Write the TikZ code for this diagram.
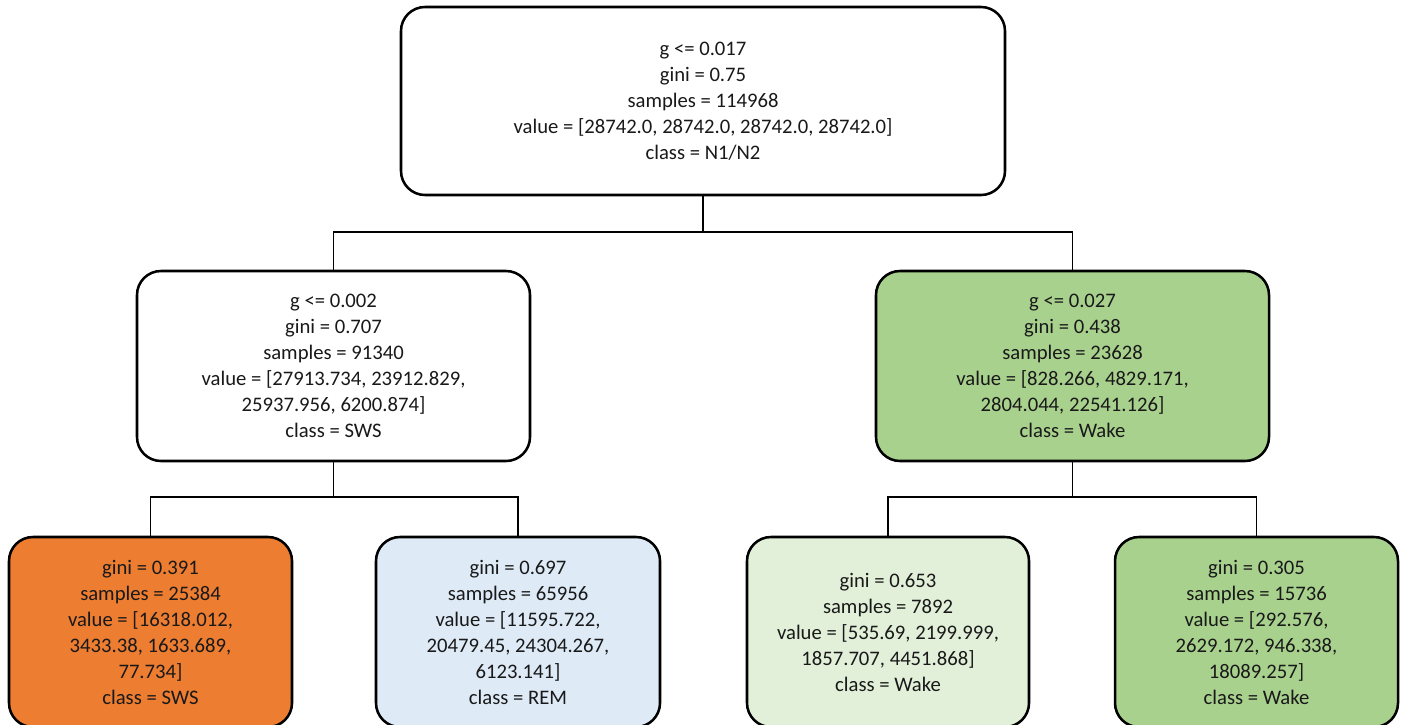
\documentclass[tikz,border=0pt]{standalone}
\usepackage{fontspec}
\setmainfont{Carlito}
\definecolor{cOrange}{HTML}{ED7D31}
\definecolor{cBlue}{HTML}{DEEBF7}
\definecolor{cGreen}{HTML}{A9D18E}
\definecolor{cLGreen}{HTML}{E2F0D9}
\begin{document}
\begin{tikzpicture}[x=0.75pt,y=-0.75pt,
  box/.style={draw=black,line width=1.9pt,rounded corners=18pt,align=center,
    font=\fontsize{15.5}{19.5}\selectfont,inner sep=0pt,text=black!90},
  conn/.style={draw=black,line width=0.8pt}]
\useasboundingbox (0,0) rectangle (1405,724);
\begin{scope}
\clip (0,0) rectangle (1405,724);
\node[box,fill=white,minimum width=604*0.75pt,minimum height=188*0.75pt] (root) at (703,101)
  {g <= 0.017\\gini = 0.75\\samples = 114968\\value = [28742.0, 28742.0, 28742.0, 28742.0]\\class = N1/N2};
\node[box,fill=white,minimum width=393*0.75pt,minimum height=190*0.75pt] (L) at (333.5,366)
  {g <= 0.002\\gini = 0.707\\samples = 91340\\value = [27913.734, 23912.829,\\25937.956, 6200.874]\\class = SWS};
\node[box,fill=cGreen,minimum width=393*0.75pt,minimum height=190*0.75pt] (R) at (1072.5,366)
  {g <= 0.027\\gini = 0.438\\samples = 23628\\value = [828.266, 4829.171,\\2804.044, 22541.126]\\class = Wake};
\node[box,fill=cOrange,minimum width=283*0.75pt,minimum height=190*0.75pt] (LL) at (150.5,632)
  {gini = 0.391\\samples = 25384\\value = [16318.012,\\3433.38, 1633.689,\\77.734]\\class = SWS};
\node[box,fill=cBlue,minimum width=284*0.75pt,minimum height=190*0.75pt] (LR) at (518,632)
  {gini = 0.697\\samples = 65956\\value = [11595.722,\\20479.45, 24304.267,\\6123.141]\\class = REM};
\node[box,fill=cLGreen,minimum width=282*0.75pt,minimum height=190*0.75pt] (RL) at (888,632)
  {gini = 0.653\\samples = 7892\\value = [535.69, 2199.999,\\1857.707, 4451.868]\\class = Wake};
\node[box,fill=cGreen,minimum width=283*0.75pt,minimum height=190*0.75pt] (RR) at (1256.5,632)
  {gini = 0.305\\samples = 15736\\value = [292.576,\\2629.172, 946.338,\\18089.257]\\class = Wake};
\end{scope}
\coordinate (j0) at (703,232);
\coordinate (j1) at (333.5,497);
\coordinate (j2) at (1072.5,497);
\draw[conn] (root.south) -- (j0);
\draw[conn] (j0) -| (L.north);
\draw[conn] (j0) -| (R.north);
\draw[conn] (L.south) -- (j1);
\draw[conn] (j1) -| (LL.north);
\draw[conn] (j1) -| (LR.north);
\draw[conn] (R.south) -- (j2);
\draw[conn] (j2) -| (RL.north);
\draw[conn] (j2) -| (RR.north);
\end{tikzpicture}
\end{document}
